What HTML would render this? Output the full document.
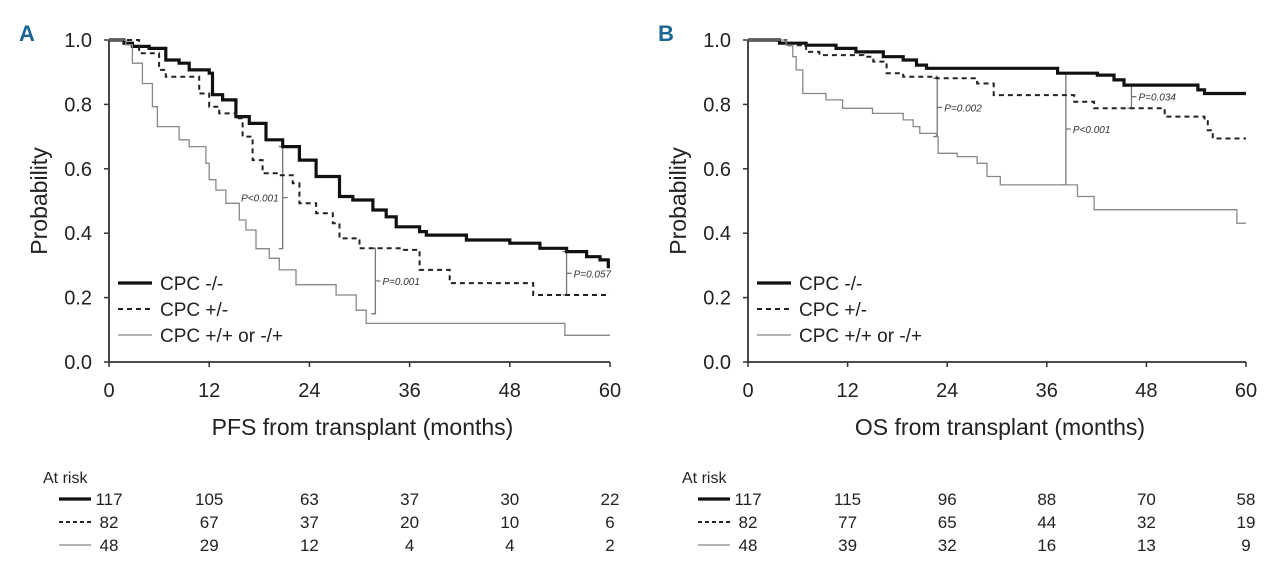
<!DOCTYPE html>
<html><head><meta charset="utf-8"><style>
html,body{margin:0;padding:0;background:#fff;}
svg{display:block;font-family:"Liberation Sans",Arial,sans-serif;}
</style></head><body>
<svg id="chart" width="1280" height="565" viewBox="0 0 1280 565" xmlns="http://www.w3.org/2000/svg"></svg>
<script>
// ---- data ----
const xTicks = [0, 12, 24, 36, 48, 60];
const yTicks = [0.0, 0.2, 0.4, 0.6, 0.8, 1.0];
const seriesNames = ["CPC -/-", "CPC +/-", "CPC +/+ or -/+"];

// Panel A (PFS): step times (months) and survival after each step
const pfsSolidT = [1.8,2.8,4.8,6.8,8.4,9.6,12,12.4,13.6,15.2,16.8,18.8,20.8,22.8,24.8,27.6,29.2,31.6,33.2,34.4,37.2,38,42.8,48,51.6,54.8,57.2,58.8,59.8];
const pfsSolidP = [0.99,0.98,0.974,0.938,0.928,0.907,0.897,0.83,0.814,0.762,0.741,0.69,0.669,0.627,0.576,0.514,0.503,0.472,0.451,0.42,0.405,0.394,0.379,0.369,0.353,0.343,0.327,0.317,0.296];
const pfsDashT = [3.6,6,6.8,10.8,12,13.2,15.2,16,17.2,18.4,20.4,22,22.8,24.8,26.8,27.6,30,34.8,37.2,40.8,50.8];
const pfsDashP = [0.959,0.907,0.886,0.834,0.793,0.772,0.757,0.7,0.627,0.586,0.58,0.555,0.493,0.462,0.431,0.384,0.353,0.348,0.286,0.245,0.208];
const pfsGrayT = [2,2.8,4,5.2,5.8,8.4,9.6,11.6,12,12.8,14,15.6,16.4,17.6,19.2,20.4,22.4,27.2,29.6,30.8,54.6];
const pfsGrayP = [0.985,0.928,0.865,0.793,0.731,0.69,0.669,0.617,0.566,0.534,0.493,0.441,0.41,0.352,0.322,0.286,0.24,0.208,0.161,0.12,0.083];

// Panel B (OS)
const osSolidT = [3.8,7,10.6,13,16.3,18.7,20.3,21.5,37.3,42.1,44.1,45.3,54.2,55];
const osSolidP = [0.99,0.984,0.974,0.963,0.948,0.938,0.922,0.912,0.897,0.891,0.876,0.86,0.845,0.834];
const osDashT = [4.6,7,8.6,13.9,15.1,16.7,18.7,22.7,27.6,29.6,39.3,41.7,50.2,55,55.4,56];
const osDashP = [0.984,0.963,0.953,0.948,0.933,0.897,0.886,0.881,0.865,0.829,0.808,0.788,0.762,0.752,0.72,0.694];
const osGrayT = [4.6,5.4,5.8,6.6,9.4,11.4,15,18.7,19.9,20.7,22.7,22.9,25.2,27.6,28.8,30.4,39.7,41.7,58.9];
const osGrayP = [0.984,0.948,0.907,0.834,0.814,0.788,0.772,0.752,0.731,0.71,0.7,0.648,0.638,0.617,0.576,0.55,0.514,0.473,0.431];

const endMonth = [60, 60, 60];

// At-risk tables
const pfsRiskSolid = [117,105,63,37,30,22];
const pfsRiskDash = [82,67,37,20,10,6];
const pfsRiskGray = [48,29,12,4,4,2];
const osRiskSolid = [117,115,96,88,70,58];
const osRiskDash = [82,77,65,44,32,19];
const osRiskGray = [48,39,32,16,13,9];

// P-value brackets: [month, probTop, probBottom]
const pfsBrackets = [[20.8,0.669,0.352],[31.9,0.353,0.15],[54.8,0.343,0.208]];
const pfsPLabels = ["P<0.001","P=0.001","P=0.057"];
const osBrackets = [[22.8,0.881,0.7],[38.3,0.897,0.55],[46.2,0.86,0.788]];
const osPLabels = ["P=0.002","P<0.001","P=0.034"];

// ---- drawing ----
const svg = document.getElementById('chart');
const NS = 'http://www.w3.org/2000/svg';
function mk(tag, attrs, parent){
  const e = document.createElementNS(NS, tag);
  for (const k in attrs) e.setAttribute(k, attrs[k]);
  (parent||svg).appendChild(e);
  return e;
}
const styles = [
  {stroke:'#111', w:3.2, dash:'none'},
  {stroke:'#222', w:2, dash:'5,4'},
  {stroke:'#888', w:1.3, dash:'none'}
];

function panel(cfg){
  const g = mk('g', {});
  
  
  const x = m => cfg.x0 + (m/60)*(cfg.x1-cfg.x0);
  const y = p => 362 - p*322;

  const lbl = mk('text', {x:cfg.x0-90, y:41, 'font-size':22, 'font-weight':'bold', fill:'#1b6690'}, g);
  
  
  lbl.textContent = cfg.letter;

  // axes
  const ax = mk('path', {d:`M${x(0)},${y(1)} V${y(0)} H${x(60)}`, stroke:'#333', 'stroke-width':1.8, fill:'none'}, g);
  
  
  yTicks.forEach(t=>{
    mk('line',{x1:x(0)-5,x2:x(0),y1:y(t),y2:y(t),stroke:'#333','stroke-width':1.5},g);
    const tx = mk('text',{x:x(0)-17,y:y(t)+7,'font-size':20,'text-anchor':'end',fill:'#222'},g);
    
    
    tx.textContent = t.toFixed(1);
  });
  xTicks.forEach(t=>{
    mk('line',{x1:x(t),x2:x(t),y1:y(0),y2:y(0)+5,stroke:'#333','stroke-width':1.5},g);
    const tx = mk('text',{x:x(t),y:397,'font-size':20,'text-anchor':'middle',fill:'#222'},g);
    
    
    tx.textContent = t;
  });
  const yt = mk('text',{x:0,y:0,'font-size':23,'text-anchor':'middle',fill:'#222',transform:`translate(${cfg.x0-62},201) rotate(-90)`},g);
  
  
  yt.textContent = 'Probability';
  const xt = mk('text',{x:(cfg.x0+cfg.x1)/2+3,y:435,'font-size':23,'text-anchor':'middle',fill:'#222'},g);
  
  
  xt.textContent = cfg.xtitle;

  // brackets
  cfg.brackets.forEach((b,i)=>{
    const bx = x(b[0]), yt0 = y(b[1]), yb = y(b[2]), ym=(yt0+yb)/2;
    const br = mk('path',{d:`M${bx-4},${yt0} H${bx} V${yb} H${bx-4} M${bx},${ym} l5,0`,stroke:'#777','stroke-width':1.3,fill:'none'},g);
    
    
    const left = (cfg.name==='panel-a-pfs'&&i===0);
    const pl = mk('text',{x:bx+(left?-4:7),y:ym+4,'font-size':10,'text-anchor':(left?'end':'start'),fill:'#333','font-style':'italic'},g);
    
    
    pl.textContent = cfg.plabels[i];
  });

  // curves
  cfg.series.forEach((s,i)=>{
    let d = `M${x(0)},${y(1)}`;
    for (let k=0;k<s.t.length;k++){ d += ` H${x(s.t[k]).toFixed(1)} V${y(s.p[k]).toFixed(1)}`; }
    d += ` H${x(endMonth[i])}`;
    const st = styles[i];
    const pth = mk('path',{d, stroke:st.stroke,'stroke-width':st.w,'stroke-dasharray':st.dash,fill:'none'},g);
    
    
  });

  // legend
  seriesNames.forEach((n,i)=>{
    const ly = 283 + i*26;
    const st = styles[i];
    const ll = mk('line',{x1:cfg.x0+9,x2:cfg.x0+43,y1:ly,y2:ly,stroke:st.stroke,'stroke-width':st.w,'stroke-dasharray':st.dash},g);
    
    
    const lt = mk('text',{x:cfg.x0+51,y:ly+7,'font-size':19,fill:'#222'},g);
    
    
    lt.textContent = n;
  });

  // at risk table
  const ar = mk('text',{x:cfg.x0-66,y:483,'font-size':16,fill:'#222'},g);
  
  
  ar.textContent = 'At risk';
  cfg.risk.forEach((row,r)=>{
    const ry = 499 + r*23;
    const st = styles[r];
    const sw = mk('line',{x1:cfg.x0-50,x2:cfg.x0-18,y1:ry,y2:ry,stroke:st.stroke,'stroke-width':st.w,'stroke-dasharray':st.dash==='none'?'none':'4,3'},g);
    
    
    row.forEach((v,c)=>{
      const tx = mk('text',{x:x(xTicks[c]),y:ry+6,'font-size':17,'text-anchor':'middle',fill:'#222'},g);
      
      
      tx.textContent = v;
    });
  });
}

panel({name:'panel-a-pfs', letter:'A', x0:109, x1:610, xtitle:'PFS from transplant (months)',
  series:[{t:pfsSolidT,p:pfsSolidP},{t:pfsDashT,p:pfsDashP},{t:pfsGrayT,p:pfsGrayP}],
  brackets:pfsBrackets, plabels:pfsPLabels, risk:[pfsRiskSolid,pfsRiskDash,pfsRiskGray]});
panel({name:'panel-b-os', letter:'B', x0:748, x1:1246, xtitle:'OS from transplant (months)',
  series:[{t:osSolidT,p:osSolidP},{t:osDashT,p:osDashP},{t:osGrayT,p:osGrayP}],
  brackets:osBrackets, plabels:osPLabels, risk:[osRiskSolid,osRiskDash,osRiskGray]});
</script>
</body></html>
